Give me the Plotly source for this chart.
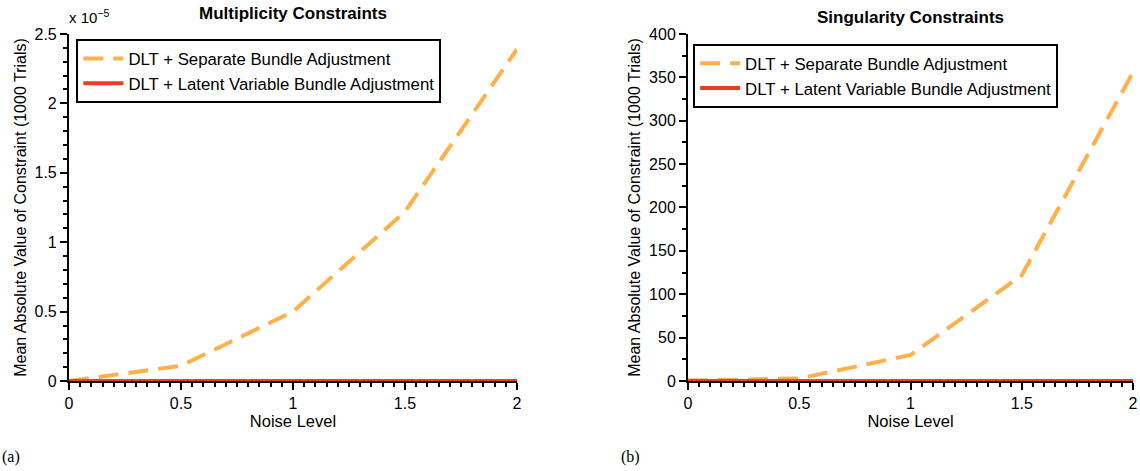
import plotly.graph_objects as go

noise = [0, 0.5, 1, 1.5, 2]
mult_separate = [0.0, 0.11, 0.50, 1.22, 2.39]   # x 1e-5
mult_latent = [0, 0, 0, 0, 0]
sing_separate = [0.5, 3, 30, 122, 356]
sing_latent = [0, 0, 0, 0, 0]

name_sep = "DLT + Separate Bundle Adjustment"
name_lat = "DLT + Latent Variable Bundle Adjustment"
orange = "#FFB04A"
red = "#EF3D23"
font = "Liberation Sans"

fig = go.Figure()
fig.add_trace(go.Scatter(x=noise, y=mult_separate, mode="lines", name=name_sep,
                         line=dict(color=orange, width=4, dash="20px,10px"),
                         xaxis="x", yaxis="y", legend="legend"))
fig.add_trace(go.Scatter(x=noise, y=mult_latent, mode="lines", name=name_lat,
                         line=dict(color=red, width=4), cliponaxis=False,
                         xaxis="x", yaxis="y", legend="legend"))
fig.add_trace(go.Scatter(x=noise, y=sing_separate, mode="lines", name=name_sep,
                         line=dict(color=orange, width=4, dash="20px,10px"),
                         xaxis="x2", yaxis="y2", legend="legend2"))
fig.add_trace(go.Scatter(x=noise, y=sing_latent, mode="lines", name=name_lat,
                         line=dict(color=red, width=4), cliponaxis=False,
                         xaxis="x2", yaxis="y2", legend="legend2"))

ydom = [0.191, 0.928]
def xax(dom, anchor):
    return dict(domain=dom, anchor=anchor, range=[0, 2], tickvals=[0, 0.5, 1, 1.5, 2],
                ticktext=["0", "0.5", "1", "1.5", "2"], automargin=False,
                showline=True, linecolor="black", linewidth=2, ticks="outside",
                ticklen=7, tickwidth=2, tickcolor="black", showgrid=False, zeroline=False,
                minor=dict(dtick=0.05, ticks="outside", ticklen=4, tickwidth=2, tickcolor="black", showgrid=False),
                title=dict(text="Noise Level", font=dict(size=16.5, family=font, color="black"), standoff=2),
                tickfont=dict(size=16, family=font, color="black"))

def yax(dom, anchor, rng, tv, tt, minor):
    return dict(domain=dom, anchor=anchor, range=rng, tickvals=tv, ticktext=tt, automargin=False,
                showline=True, linecolor="black", linewidth=2, ticks="outside",
                ticklen=7, tickwidth=2, tickcolor="black", showgrid=False, zeroline=False,
                minor=dict(dtick=minor, ticks="outside", ticklen=4, tickwidth=2, tickcolor="black", showgrid=False),
                title=dict(text="Mean Absolute Value of Constraint (1000 Trials)",
                           font=dict(size=16, family=font, color="black"), standoff=4),
                tickfont=dict(size=16, family=font, color="black"))

legend_style = dict(bgcolor="white", bordercolor="black", borderwidth=2,
                    font=dict(size=16.8, family=font, color="black"),
                    xanchor="left", yanchor="top", tracegroupgap=0, itemwidth=40)

fig.update_layout(
    width=1140, height=471,
    margin=dict(l=0, r=0, t=0, b=0),
    plot_bgcolor="white", paper_bgcolor="white",
    xaxis=xax([0.0605, 0.4535], "y"),
    yaxis=yax(ydom, "x", [0, 2.5], [0, 0.5, 1, 1.5, 2, 2.5], ["0", "0.5", "1", "1.5", "2", "2.5"], 0.1),
    xaxis2=xax([0.6035, 0.9939], "y2"),
    yaxis2=yax(ydom, "x2", [0, 400], [0, 50, 100, 150, 200, 250, 300, 350, 400],
               ["0", "50", "100", "150", "200", "250", "300", "350", "400"], 25),
    legend=dict(x=0.067, y=0.917, **legend_style),
    legend2=dict(x=0.608, y=0.907, **legend_style),
    showlegend=True,
    annotations=[
        dict(text="<b>Multiplicity Constraints</b>", x=0.257, y=0.972, xref="paper", yref="paper",
             showarrow=False, font=dict(size=17, family=font, color="black"), xanchor="center", yanchor="middle"),
        dict(text="<b>Singularity Constraints</b>", x=0.7987, y=0.963, xref="paper", yref="paper",
             showarrow=False, font=dict(size=17, family=font, color="black"), xanchor="center", yanchor="middle"),
        dict(text="x 10<sup>−5</sup>", x=0.059, y=0.965, xref="paper", yref="paper",
             showarrow=False, font=dict(size=15, family=font, color="black"), xanchor="left", yanchor="middle"),
        dict(text="(a)", x=0.0, y=0.03, xref="paper", yref="paper", showarrow=False,
             font=dict(size=16, family="Liberation Serif", color="black"), xanchor="left", yanchor="middle"),
        dict(text="(b)", x=0.543, y=0.03, xref="paper", yref="paper", showarrow=False,
             font=dict(size=16, family="Liberation Serif", color="black"), xanchor="left", yanchor="middle"),
    ],
)

fig.write_html("out.html", config={"displayModeBar": False},
               post_script="document.body.style.margin='0';document.body.style.padding='0';")
